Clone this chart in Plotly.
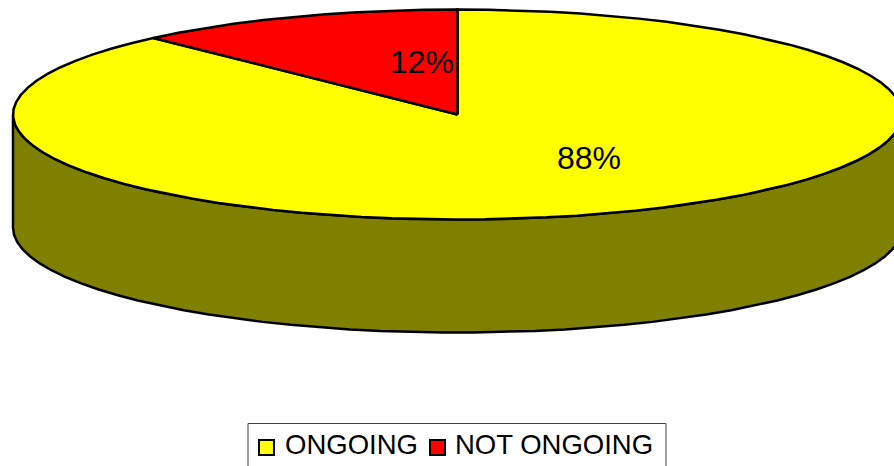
import numpy as np
import plotly.graph_objects as go

# Slice data
categories = ["ONGOING", "NOT ONGOING"]
shares = [88, 12]
share_labels = ["88%", "12%"]
slice_colors = ["#FFFF00", "#FF0000"]
wall_color = "#808000"

# Disc geometry in page pixels
CX, CY, RX, RY = 457.5, 114.5, 444.5, 105.0
DEPTH = 113.0
OUTLINE = dict(color="black", width=2.5)


def rim(start_deg, end_deg, step=4.0):
    """Points along the top ellipse, clockwise from twelve o'clock."""
    n = max(2, int(abs(end_deg - start_deg) / step) + 1)
    t = np.radians(np.linspace(start_deg, end_deg, n))
    return CX + RX * np.sin(t), CY - RY * np.cos(t)


fig = go.Figure()

# Side wall: the front half of the rim, dropped by the disc depth
fx, fy = rim(90, 270)
wall_x = np.concatenate([fx, fx[::-1], fx[:1]])
wall_y = np.concatenate([fy, fy[::-1] + DEPTH, fy[:1]])
fig.add_trace(go.Scatter(x=wall_x, y=wall_y, mode="lines", fill="toself",
                         fillcolor=wall_color, line=OUTLINE, hoverinfo="skip"))

# Top face: one wedge per category, sized from its share
angle = 0.0
for name, share, color in zip(categories, shares, slice_colors):
    sweep = 360.0 * share / sum(shares)
    ex, ey = rim(angle, angle + sweep)
    fig.add_trace(go.Scatter(x=np.concatenate([[CX], ex, [CX]]),
                             y=np.concatenate([[CY], ey, [CY]]),
                             mode="lines", fill="toself", fillcolor=color,
                             line=OUTLINE, name=name, hoverinfo="skip"))
    angle += sweep

annotations = []


def add_text(text, x, y, size, anchor="center"):
    annotations.append(dict(text=text, x=x, y=y, xref="x", yref="y", showarrow=False,
                            xanchor=anchor, yanchor="middle", borderpad=0,
                            font=dict(family="Liberation Sans, Arial, sans-serif",
                                      size=size, color="black")))


add_text(share_labels[0], 589, 158, 32)
add_text(share_labels[1], 421.5, 61.5, 32)

# Legend frame runs off the bottom of the page
shapes = [dict(type="rect", x0=248, x1=666, y0=423.5, y1=480, xref="x", yref="y",
               line=dict(color="#404040", width=1), fillcolor="white")]
legend_items = [(259, 283.5), (430, 454)]
for (sw, tx), name, color in zip(legend_items, categories, slice_colors):
    shapes.append(dict(type="rect", x0=sw, x1=sw + 15, y0=440, y1=455, xref="x", yref="y",
                       line=dict(color="black", width=2), fillcolor=color))
    add_text(name, tx, 444, 27.5, anchor="left")

fig.update_layout(
    width=894, height=466, autosize=False,
    margin=dict(l=0, r=0, t=0, b=0),
    paper_bgcolor="white", plot_bgcolor="white",
    showlegend=False,
    xaxis=dict(range=[0, 894], visible=False, fixedrange=True),
    yaxis=dict(range=[466, 0], visible=False, fixedrange=True),
    shapes=shapes, annotations=annotations,
)
fig.write_html("out.html", config=dict(displayModeBar=False))
